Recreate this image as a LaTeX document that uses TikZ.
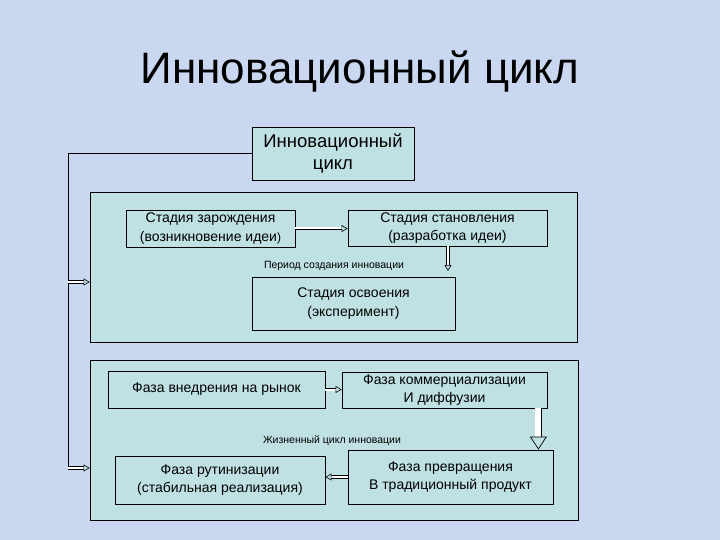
\documentclass[tikz,border=0pt]{standalone}
\usepackage{fontspec}
\setmainfont{Liberation Sans}
\usepackage{tikz}
\usetikzlibrary{positioning, arrows.meta}
\definecolor{slidebg}{RGB}{202,215,240}
\definecolor{panelfill}{RGB}{192,225,228}

\begin{document}
\begin{tikzpicture}[x=1pt, y=-1pt,
    panel/.style={draw=black, line width=0.8pt, fill=panelfill, inner sep=0pt},
    stage/.style={draw=black, line width=0.8pt, fill=panelfill, align=center, font=\fontsize{14}{18.5}\selectfont, inner sep=0pt},
    note/.style={font=\fontsize{10.5}{12}\selectfont, inner sep=1pt},
    dblarrow/.style={double, double distance=2pt, line width=0.6pt, -{Triangle[open, fill=panelfill, width=7pt, length=6pt]}},
    bigarrow/.style={double, double distance=6pt, line width=0.7pt, -{Triangle[open, fill=panelfill, width=17pt, length=13pt]}}
  ]
    \fill[slidebg] (0,0) rectangle (720,540);
    \node[font=\fontsize{44}{50}\selectfont] (title) at (360,72) {Инновационный цикл};

    \node[panel, minimum width=487pt, minimum height=150pt] (upper) at (333.5,267) {};
    \node[panel, minimum width=488pt, minimum height=160pt] (lower) at (334,440) {};

    \node[stage, font=\fontsize{18.5}{22}\selectfont, minimum width=162pt, minimum height=53pt] (cycle) at (333,153.5) {Инновационный\\цикл};

    \node[stage, minimum width=169pt, minimum height=37pt] (birth) at (210.5,228.5) {Стадия зарождения\\(возникновение идеи{\large)}};
    \node[stage, minimum width=199pt, minimum height=36pt] (growth) at (447.5,228) {Стадия становления\\(разработка идеи)};
    \node[stage, minimum width=203pt, minimum height=53pt] (master) at (353.5,303.5) {Стадия освоения\\(эксперимент)};
    \node[note] (period) at (334,266) {Период создания инновации};

    \node[stage, minimum width=217pt, minimum height=37pt] (market) at (216.5,389.5) {Фаза внедрения на рынок};
    \node[stage, minimum width=205pt, minimum height=36pt] (commerce) at (444.5,390) {Фаза коммерциализации\\И диффузии};
    \node[stage, minimum width=205pt, minimum height=54pt] (convert) at (450.5,477) {Фаза превращения\\В традиционный продукт};
    \node[stage, minimum width=210pt, minimum height=48pt] (routine) at (220,480) {Фаза рутинизации\\(стабильная реализация)};
    \node[note] (life) at (332,441) {Жизненный цикл инновации};

    % arrows inside the panels
    \coordinate (devdown) at (448,271);
    \coordinate (comdown) at ([xshift=-15pt]convert.north east);
    \draw[dblarrow] (birth.east) -- (birth.east -| growth.west);
    \draw[dblarrow] (growth.south -| devdown) -- (devdown);
    \draw[dblarrow] (market.east) -- (market.east -| commerce.west);
    \draw[bigarrow] (commerce.south -| comdown) -- (comdown);
    \draw[dblarrow] (convert.west) -- (convert.west -| routine.east);

    % feedback line on the left
    \coordinate (corner) at (68,153.5);
    \coordinate (branch) at (68,282);
    \coordinate (loopend) at (68,468);
    \draw[line width=0.8pt] (cycle.west) -- (corner) -- (loopend);
    \draw[dblarrow] (branch) -- (branch -| upper.west);
    \draw[dblarrow] (loopend) -- (loopend -| lower.west);
\end{tikzpicture}
\end{document}
